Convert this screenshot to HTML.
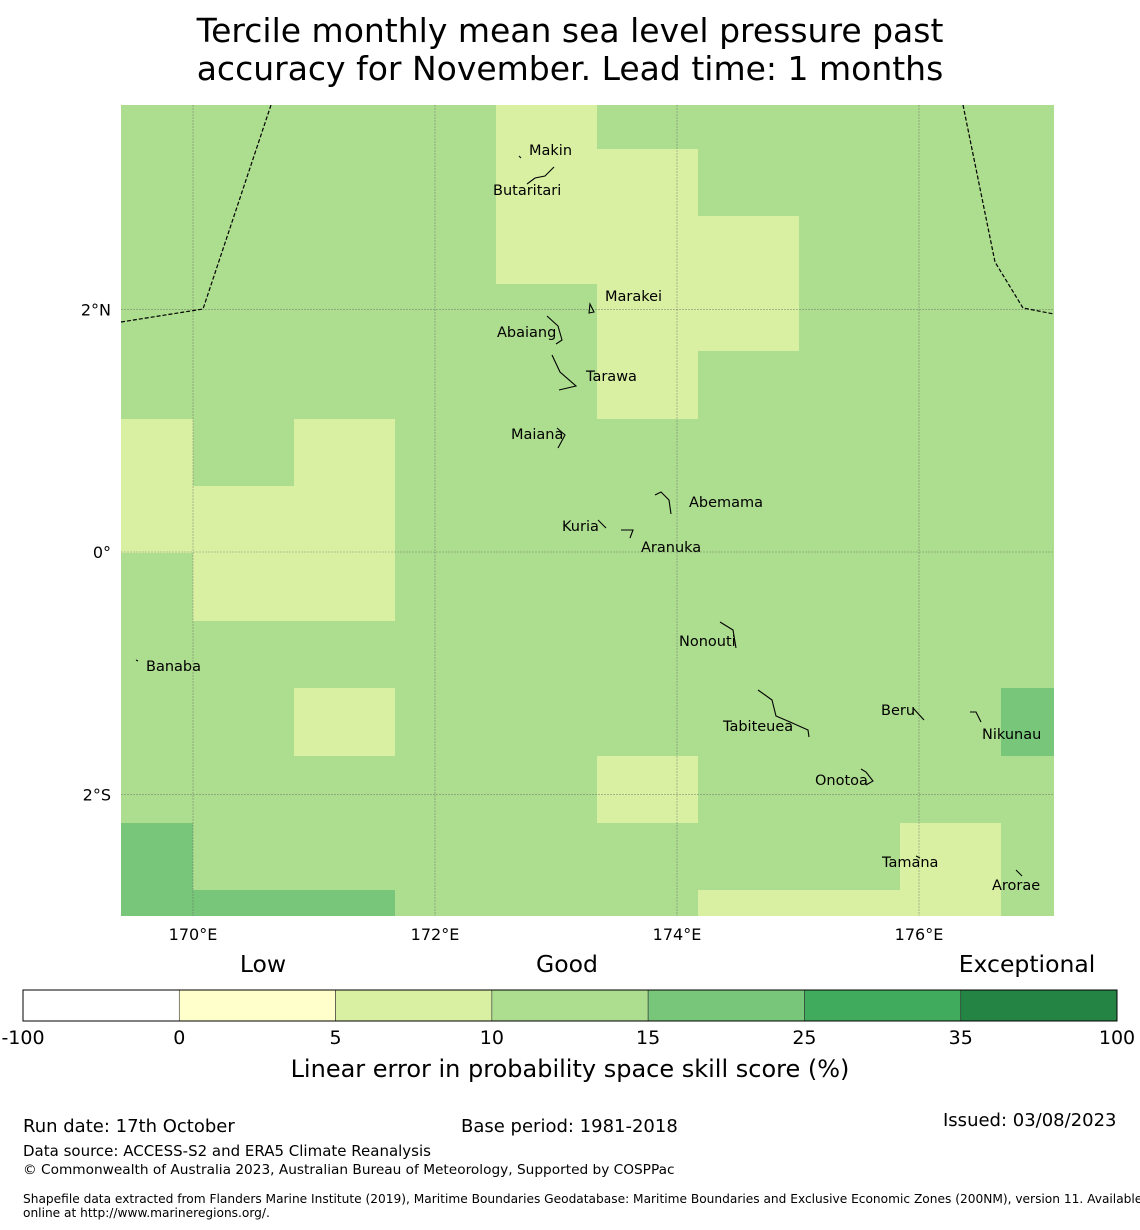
<!DOCTYPE html>
<html><head><meta charset="utf-8"><style>
body{margin:0;background:#fff;font-family:"DejaVu Sans","Liberation Sans",sans-serif;}
#wrap{position:relative;width:1140px;height:1230px;overflow:hidden;background:#fff}
.t{position:absolute;white-space:nowrap;color:#000}
</style></head><body>
<div id="wrap">
<div class="t" style="left:0;width:1140px;text-align:center;top:12px;font-size:33px;line-height:38px">Tercile monthly mean sea level pressure past<br>accuracy for November. Lead time: 1 months</div>
<svg id="map" width="1140" height="1230" style="position:absolute;left:0;top:0"></svg>
<div class="t" style="left:23px;top:1116px;font-size:18px">Run date: 17th October</div>
<div class="t" style="left:461px;top:1116px;font-size:18px">Base period: 1981-2018</div>
<div class="t" style="left:943px;top:1110px;font-size:18px">Issued: 03/08/2023</div>
<div class="t" style="left:23px;top:1142px;font-size:15px">Data source: ACCESS-S2 and ERA5 Climate Reanalysis</div>
<div class="t" style="left:23px;top:1162px;font-size:13.7px">© Commonwealth of Australia 2023, Australian Bureau of Meteorology, Supported by COSPPac</div>
<div class="t" style="left:23px;top:1192px;font-size:12.2px;line-height:14px">Shapefile data extracted from Flanders Marine Institute (2019), Maritime Boundaries Geodatabase: Maritime Boundaries and Exclusive Economic Zones (200NM), version 11. Available<br>online at http://www.marineregions.org/.</div>
</div>
<script>
// grid values (%) by row (top to bottom) and column (left to right)
const gridValues = [
[12,12,12,12,7,12,12,12,12,12],
[12,12,12,12,7,7,12,12,12,12],
[12,12,12,12,7,7,7,12,12,12],
[12,12,12,12,12,7,7,12,12,12],
[12,12,12,12,12,7,12,12,12,12],
[7,12,7,12,12,12,12,12,12,12],
[7,7,7,12,12,12,12,12,12,12],
[12,7,7,12,12,12,12,12,12,12],
[12,12,12,12,12,12,12,12,12,12],
[12,12,7,12,12,12,12,12,12,20],
[12,12,12,12,12,7,12,12,12,12],
[20,12,12,12,12,12,12,12,7,12],
[20,20,20,12,12,12,7,7,7,12]];
const binEdges = [-100,0,5,10,15,25,35,100];
const binColors = ["#ffffff","#ffffcc","#d9f0a3","#addd8e","#78c679","#41ab5d","#238443"];
const lonTicks = [170,172,174,176];
const latTicks = [2,0,-2];
const islands = [
["Makin",173.0,3.3,529,150],["Butaritari",172.8,3.1,493,190],["Marakei",173.3,2.0,605,296],
["Abaiang",173.0,1.85,497,332],["Tarawa",173.0,1.45,586,376],["Maiana",173.0,0.95,511,434],
["Abemama",173.9,0.4,689,502],["Kuria",173.4,0.22,562,526],["Aranuka",173.6,0.15,641,547],
["Nonouti",174.4,-0.65,679,641],["Banaba",169.55,-0.87,146,666],["Tabiteuea",174.9,-1.4,723,726],
["Beru",175.95,-1.35,881,710],["Nikunau",176.45,-1.35,982,734],["Onotoa",175.55,-1.85,815,780],
["Tamana",175.98,-2.5,882,862],["Arorae",176.8,-2.65,992,885]];
const S="http://www.w3.org/2000/svg";
const svg=document.getElementById('map');
const x0=121,x1=1054,y0=105,y1=916;
const xs=lon=>193+(lon-170)*121;
const ys=lat=>552-lat*121.3;
const lonMin=169.4, latMax=(552-105)/121.3;
const cw=101/121;
function mk(tag,attrs){const e=document.createElementNS(S,tag);for(const k in attrs)e.setAttribute(k,attrs[k]);svg.appendChild(e);return e;}
function colorFor(v){for(let i=0;i<binEdges.length-1;i++)if(v<binEdges[i+1])return binColors[i];return binColors[binColors.length-1];}
const colEdges=[lonMin];for(let i=1;i<=10;i++)colEdges.push(170+(i-1)*cw);
const rowTop=[latMax];const firstRow=3.322, rh=67.4/121.3;for(let i=1;i<=13;i++)rowTop.push(firstRow-(i-1)*rh);
gridValues.forEach((row,r)=>row.forEach((v,c)=>{
 const xa=Math.max(x0,xs(colEdges[c])),xb=c==9?x1:Math.min(x1,xs(colEdges[c+1]));
 const ya=Math.max(y0,ys(rowTop[r])),yb=r==12?y1:Math.min(y1,ys(rowTop[r+1]));
 const e=mk('rect',{x:Math.round(xa),y:Math.round(ya),width:Math.max(0,Math.round(xb)-Math.round(xa)),height:Math.max(0,Math.round(yb)-Math.round(ya)),fill:colorFor(v),'shape-rendering':'crispEdges'});
 
 
}));
lonTicks.forEach(l=>{const x=xs(l);
 const g=mk('line',{x1:x,x2:x,y1:y0,y2:y1,stroke:'#555','stroke-width':0.6,'stroke-dasharray':'2,1','opacity':0.6});
 
 const t=mk('text',{x:x,y:940,'font-size':16,'text-anchor':'middle','font-family':'DejaVu Sans, sans-serif'});t.textContent=l+'°E';
 });
latTicks.forEach(l=>{const y=ys(l);
 const g=mk('line',{x1:x0,x2:x1,y1:y,y2:y,stroke:'#555','stroke-width':0.6,'stroke-dasharray':'2,1','opacity':0.6});
 
 const t=mk('text',{x:111,y:y+6,'font-size':16,'text-anchor':'end','font-family':'DejaVu Sans, sans-serif'});t.textContent=l==0?'0°':Math.abs(l)+'°'+(l>0?'N':'S');
 });
[[[121,322],[203,309],[271,105]],[[963,105],[995,262],[1023,308],[1054,314]]].forEach(p=>{
 const e=mk('polyline',{points:p.map(q=>q.join(',')).join(' '),fill:'none',stroke:'#000','stroke-width':1.2,'stroke-dasharray':'4,2'});
 });
const shapes={"Butaritari":"M527,184 L535,178 L545,176 L554,167","Marakei":"M589,313 L590,304 L594,312 Z","Abaiang":"M547,316 L558,326 L562,340 L556,344","Tarawa":"M552,355 L560,372 L576,386 L559,390","Maiana":"M557,428 L565,435 L558,448","Abemama":"M655,495 L661,492 L669,500 L671,514","Kuria":"M598,520 L606,528","Aranuka":"M621,530 L633,530 L630,538","Nonouti":"M720,622 L733,630 L736,648","Banaba":"M136,660 L138,661","Tabiteuea":"M758,690 L772,700 L776,716 L790,722 L808,730 L809,737","Beru":"M913,708 L924,720","Nikunau":"M970,712 L976,712 L981,722","Onotoa":"M861,769 L866,772 L873,781 L866,785","Tamana":"M916,856 L920,858","Arorae":"M1016,870 L1022,876","Makin":"M519,156 L521,158"};
islands.forEach(d=>{
 if(shapes[d[0]]){const e=mk('path',{d:shapes[d[0]],fill:'none',stroke:'#000','stroke-width':1.1});
 }
 const t=mk('text',{x:d[3],y:d[4]+5,'font-size':14.5,'font-family':'DejaVu Sans, sans-serif'});t.textContent=d[0];
 });
const cbx=23,cbw=1094,cby=990,cbh=31,bw=cbw/binColors.length;
binColors.forEach((c,i)=>{const e=mk('rect',{x:cbx+i*bw,y:cby,width:bw,height:cbh,fill:c,stroke:'#333','stroke-width':0.6});
 });
const fr=mk('rect',{x:cbx,y:cby,width:cbw,height:cbh,fill:'none',stroke:'#000','stroke-width':1});

binEdges.forEach((v,i)=>{const t=mk('text',{x:cbx+i*bw,y:1044,'font-size':19,'text-anchor':'middle','font-family':'DejaVu Sans, sans-serif'});t.textContent=v;
 });
[["Low",263],["Good",567],["Exceptional",1027]].forEach(a=>{const t=mk('text',{x:a[1],y:972,'font-size':23.5,'text-anchor':'middle','font-family':'DejaVu Sans, sans-serif'});t.textContent=a[0];
 });
const ct=mk('text',{x:570,y:1077,'font-size':24,'text-anchor':'middle','font-family':'DejaVu Sans, sans-serif'});ct.textContent='Linear error in probability space skill score (%)';

</script>
</body></html>
